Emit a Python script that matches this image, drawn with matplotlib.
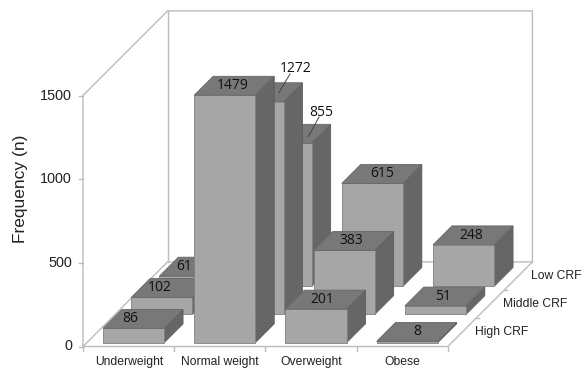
import matplotlib
matplotlib.use('Agg')
import matplotlib.pyplot as plt
from matplotlib.patches import Polygon

plt.rcParams['font.family'] = ['Liberation Sans', 'DejaVu Sans']

categories = ['Underweight', 'Normal weight', 'Overweight', 'Obese']
rows = ['High CRF', 'Middle CRF', 'Low CRF']
high_crf = [86, 1479, 201, 8]
middle_crf = [102, 1272, 383, 51]
low_crf = [61, 855, 615, 248]
y_ticks = [0, 500, 1000, 1500]

# pixel layout of the fake 3d box
FX, FY = 83, 346.5       # front left floor corner
CAT = 91.2               # width of one category
DEP = 28.2               # depth of one row
K = 251 / 1500           # pixels per unit
BAR_W, BAR_D = 0.67, 0.67
BAR_C, BAR_Z = 0.178, 0.135   # gap before a bar, in cat and row units


def proj(c, d, v=0):
    return FX + c * CAT + d * DEP, FY - d * DEP - v * K


fig = plt.figure(figsize=(5.84, 3.69), dpi=100)
ax = fig.add_axes([0, 0, 1, 1])
ax.set_xlim(0, 584)
ax.set_ylim(369, 0)
ax.axis('off')

# walls and floor
wall = '#bcbcbc'
corners = [
    [proj(0, 0), proj(0, 0, 1500), proj(0, 3, 1500), proj(4, 3, 1500), proj(4, 3), proj(4, 0), proj(0, 0)],
    [proj(0, 0), proj(0, 3), proj(4, 3)],
    [proj(0, 3), proj(0, 3, 1500)],
]
for pts in corners:
    ax.plot(*zip(*pts), color=wall, lw=1, solid_joinstyle='miter', zorder=1)

# ticks
for t in y_ticks:
    x, y = proj(0, 0, t)
    ax.plot([x - 4, x], [y, y], color=wall, lw=1, zorder=1)
    ax.text(x - 11, y, str(t), ha='right', va='center', fontsize=10.4, color='#222222')
for i in range(len(categories) + 1):
    x, y = proj(i, 0)
    ax.plot([x, x], [y, y + 4], color=wall, lw=1, zorder=1)
for i in range(1, 3):
    x, y = proj(4, i)
    ax.plot([x, x + 3], [y, y], color=wall, lw=1, zorder=1)

for i, name in enumerate(categories):
    x, y = proj(i + 0.5, 0)
    ax.text(x + 0.5, 362, name, ha='center', va='center', fontsize=8.7, color='#222222')
for i, name in enumerate(rows):
    x, y = proj(4, i)
    ax.text(x + 27, y - 14, name, ha='left', va='center', fontsize=8.7, color='#222222')

ax.text(21, 189, 'Frequency (n)', rotation=90, ha='center', va='center', fontsize=12.5, color='#222222')

# bars, back row first so the front ones cover them
z = 2
for d, vals in reversed(list(enumerate([high_crf, middle_crf, low_crf]))):
    for c, v in enumerate(vals):
        c0 = c + BAR_C
        c1 = c0 + BAR_W
        d0 = d + BAR_Z
        d1 = d0 + BAR_D
        front = [proj(c0, d0), proj(c1, d0), proj(c1, d0, v), proj(c0, d0, v)]
        side = [proj(c1, d0), proj(c1, d1), proj(c1, d1, v), proj(c1, d0, v)]
        top = [proj(c0, d0, v), proj(c1, d0, v), proj(c1, d1, v), proj(c0, d1, v)]
        ax.add_patch(Polygon(side, fc='#666666', ec='#5c5c5c', lw=0.6, zorder=z))
        ax.add_patch(Polygon(front, fc='#a6a6a6', ec='#808080', lw=0.6, zorder=z))
        ax.add_patch(Polygon(top, fc='#787878', ec='#666666', lw=0.6, zorder=z))
        z += 1

# value labels sit on the tops, a few are shifted
shift_high = [-13, -2, -3, 1]
shift_middle = [-12, 0, -2, -2]
shift_low = [-15, 0, 0, -2]
label_font = ['Open Sans', 'DejaVu Sans']
for d, (vals, shifts) in enumerate(zip([high_crf, middle_crf, low_crf], [shift_high, shift_middle, shift_low])):
    for c, v in enumerate(vals):
        if v in (1272, 855):
            continue
        x, y = proj(c + BAR_C + BAR_W / 2, d + BAR_Z + BAR_D / 2, v)
        ax.text(x + shifts[c], y, str(v), ha='center', va='center', fontsize=10,
                family=label_font, color='#111111', zorder=50)

# leader lines for the two hidden tops
ax.text(296, 68, '1272', ha='center', va='center', fontsize=10, family=label_font, color='#111111', zorder=50)
ax.plot([290, 279], [74, 92.5], color='#444444', lw=0.7, zorder=50)
ax.text(321, 112, '855', ha='center', va='center', fontsize=10, family=label_font, color='#111111', zorder=50)
ax.plot([319, 308.5], [117, 136.5], color='#444444', lw=0.7, zorder=50)

fig.savefig('out.png', dpi=100)
